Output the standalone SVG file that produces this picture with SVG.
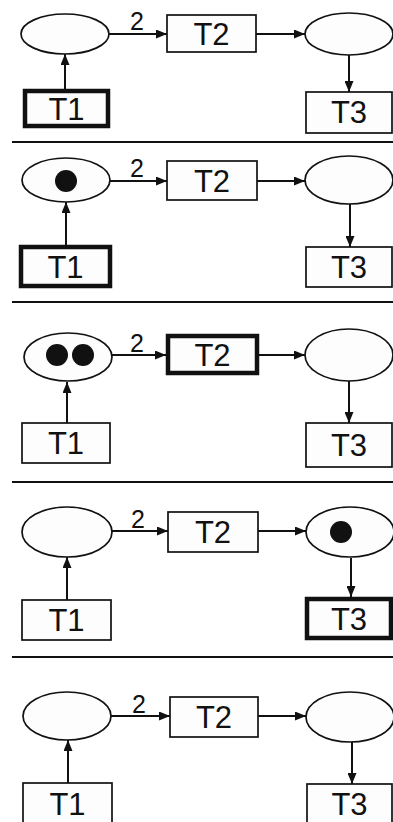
<svg xmlns="http://www.w3.org/2000/svg" width="393" height="822" viewBox="0 0 393 822">
  <defs>
    <marker id="arrow" markerUnits="userSpaceOnUse" markerWidth="11" markerHeight="9" refX="11" refY="4.5" orient="auto">
      <path d="M0,0 L11,4.5 L0,9 z" fill="#111"/>
    </marker>
    <style>
      .place { fill: #fdfdfd; stroke: #111; stroke-width: 1.7; }
      .trans { fill: #fdfdfd; stroke: #111; stroke-width: 1.7; }
      .fired { stroke-width: 4.5; }
      .token { fill: #111; }
      .label { font-family: "Liberation Sans", Arial, sans-serif; font-size: 31px; fill: #111; text-anchor: middle; }
      .weight { font-family: "Liberation Sans", Arial, sans-serif; font-size: 25px; fill: #111; text-anchor: middle; }
      .arc { stroke: #111; stroke-width: 2; fill: none; marker-end: url(#arrow); }
      .sep { stroke: #111; stroke-width: 1.8; }
    </style>
  </defs>
  <rect width="393" height="822" fill="#ffffff"/>

  <!-- step 1: T1 enabled -->
  <g id="s1-P1"><ellipse class="place" cx="65" cy="34" rx="44" ry="20"/></g>
  <g id="s1-T2"><rect class="trans" x="167" y="15" width="89" height="37"/><text class="label" x="211.5" y="45">T2</text></g>
  <g id="s1-P2"><ellipse class="place" cx="349" cy="34" rx="44" ry="21"/></g>
  <g id="s1-T1"><rect class="trans fired" x="25" y="91" width="83" height="35"/><text class="label" x="66.5" y="120">T1</text></g>
  <g id="s1-T3"><rect class="trans" x="306" y="92" width="86" height="41"/><text class="label" x="349" y="123">T3</text></g>
  <g id="s1-arcs">
    <line class="arc" x1="65" y1="89" x2="65" y2="54"/>
    <line class="arc" x1="109" y1="34" x2="167" y2="34"/>
    <text class="weight" x="137" y="30">2</text>
    <line class="arc" x1="256" y1="34" x2="305" y2="34"/>
    <line class="arc" x1="349" y1="55" x2="349" y2="92"/>
  </g>
  <line class="sep" x1="12" y1="142" x2="393" y2="142"/>

  <!-- step 2: one token in P1, T1 enabled -->
  <g id="s2-P1"><ellipse class="place" cx="66" cy="180" rx="44" ry="22"/><circle class="token" cx="66" cy="181" r="11"/></g>
  <g id="s2-T2"><rect class="trans" x="167" y="161" width="90" height="39"/><text class="label" x="212" y="192">T2</text></g>
  <g id="s2-P2"><ellipse class="place" cx="349" cy="180" rx="44" ry="24"/></g>
  <g id="s2-T1"><rect class="trans fired" x="21" y="247" width="89" height="39"/><text class="label" x="65.5" y="278">T1</text></g>
  <g id="s2-T3"><rect class="trans" x="306" y="247" width="86" height="40"/><text class="label" x="349" y="278">T3</text></g>
  <g id="s2-arcs">
    <line class="arc" x1="66" y1="245" x2="66" y2="202"/>
    <line class="arc" x1="110" y1="181" x2="167" y2="181"/>
    <text class="weight" x="137" y="177">2</text>
    <line class="arc" x1="257" y1="181" x2="305" y2="181"/>
    <line class="arc" x1="350" y1="204" x2="350" y2="247"/>
  </g>
  <line class="sep" x1="12" y1="302" x2="393" y2="302"/>

  <!-- step 3: two tokens in P1, T2 enabled -->
  <g id="s3-P1"><ellipse class="place" cx="68" cy="357" rx="44" ry="24"/><circle class="token" cx="57" cy="355" r="11"/><circle class="token" cx="83" cy="355" r="11"/></g>
  <g id="s3-T2"><rect class="trans fired" x="168" y="336" width="89" height="37"/><text class="label" x="212.5" y="366">T2</text></g>
  <g id="s3-P2"><ellipse class="place" cx="349" cy="355" rx="44" ry="26"/></g>
  <g id="s3-T1"><rect class="trans" x="22" y="423" width="88" height="40"/><text class="label" x="66" y="454">T1</text></g>
  <g id="s3-T3"><rect class="trans" x="306" y="423" width="86" height="44"/><text class="label" x="349" y="456">T3</text></g>
  <g id="s3-arcs">
    <line class="arc" x1="67" y1="423" x2="67" y2="382"/>
    <line class="arc" x1="112" y1="355" x2="166" y2="355"/>
    <text class="weight" x="137" y="352">2</text>
    <line class="arc" x1="259" y1="355" x2="305" y2="355"/>
    <line class="arc" x1="349" y1="381" x2="349" y2="423"/>
  </g>
  <line class="sep" x1="12" y1="482" x2="393" y2="482"/>

  <!-- step 4: token in P2, T3 enabled -->
  <g id="s4-P1"><ellipse class="place" cx="67" cy="532" rx="45" ry="25"/></g>
  <g id="s4-T2"><rect class="trans" x="168" y="512" width="90" height="40"/><text class="label" x="213" y="543">T2</text></g>
  <g id="s4-P2"><ellipse class="place" cx="350" cy="532" rx="44" ry="25"/><circle class="token" cx="341" cy="532" r="11"/></g>
  <g id="s4-T1"><rect class="trans" x="22" y="600" width="89" height="40"/><text class="label" x="66.5" y="631">T1</text></g>
  <g id="s4-T3"><rect class="trans fired" x="307" y="599" width="84" height="39"/><text class="label" x="349" y="630">T3</text></g>
  <g id="s4-arcs">
    <line class="arc" x1="67" y1="600" x2="67" y2="557"/>
    <line class="arc" x1="112" y1="531" x2="168" y2="531"/>
    <text class="weight" x="138" y="528">2</text>
    <line class="arc" x1="258" y1="531" x2="306" y2="531"/>
    <line class="arc" x1="351" y1="558" x2="351" y2="597"/>
  </g>
  <line class="sep" x1="12" y1="657" x2="393" y2="657"/>

  <!-- step 5: empty marking -->
  <g id="s5-P1"><ellipse class="place" cx="67" cy="716" rx="44" ry="24"/></g>
  <g id="s5-T2"><rect class="trans" x="170" y="697" width="88" height="40"/><text class="label" x="214" y="728">T2</text></g>
  <g id="s5-P2"><ellipse class="place" cx="350" cy="717" rx="44" ry="25"/></g>
  <g id="s5-T1"><rect class="trans" x="23" y="783" width="89" height="45"/><text class="label" x="67.5" y="815">T1</text></g>
  <g id="s5-T3"><rect class="trans" x="307" y="784" width="85" height="45"/><text class="label" x="349.5" y="815">T3</text></g>
  <g id="s5-arcs">
    <line class="arc" x1="68" y1="783" x2="68" y2="740"/>
    <line class="arc" x1="111" y1="716" x2="170" y2="716"/>
    <text class="weight" x="139" y="713">2</text>
    <line class="arc" x1="258" y1="716" x2="306" y2="716"/>
    <line class="arc" x1="352" y1="742" x2="352" y2="784"/>
  </g>
</svg>
